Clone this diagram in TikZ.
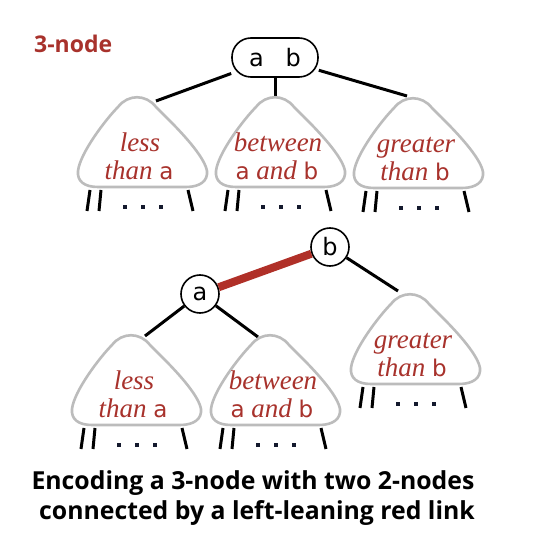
\documentclass[tikz,border=0pt]{standalone}
\usepackage{fontspec}
\setmainfont{Liberation Serif}
\newfontfamily\capfont{Open Sans}
\newfontfamily\keyfont{DejaVu Sans}
\definecolor{bookred}{RGB}{168,50,44}
\definecolor{trigray}{RGB}{188,188,188}
\definecolor{linkred}{RGB}{176,48,40}
\definecolor{dotc}{RGB}{20,25,45}
\tikzset{
  conn/.style={line width=3pt, black},
  redlink/.style={line width=8pt, linkred},
  tri/.style={draw=trigray, line width=2.6pt, fill=white, line join=round},
  leg/.style={line width=3pt, black},
  lbl/.style={inner sep=0pt, text=bookred, font=\fontsize{27}{29}\selectfont\itshape},
  keynode/.style={circle, draw, line width=1.6pt, fill=white, minimum size=38pt, inner sep=0pt, font=\keyfont\fontsize{24}{26}\selectfont},
  capsule/.style={draw, rounded corners=19pt, minimum width=86pt, minimum height=39pt, line width=1.6pt, fill=white, inner sep=0pt, font=\keyfont\fontsize{24}{26}\selectfont},
  capt/.style={inner sep=0pt, font=\capfont\bfseries\fontsize{24.8}{27}\selectfont},
  title/.style={inner sep=0pt, text=bookred, font=\capfont\bfseries\fontsize{23}{26}\selectfont},
}
\newcommand\sk[1]{{\upshape\keyfont\fontsize{23}{25}\selectfont #1}}
\newcommand\subtreeat[5]{%
  \begin{scope}[shift={(#1,#2)}]
    \filldraw[tri] (-44,0) -- (44,0) .. controls (58,0) and (66,6) .. (65,16)
      .. controls (62,34) and (26,68) .. (14,80)
      .. controls (4,93) and (-14,93) .. (-24,80)
      .. controls (-36,68) and (-62,34) .. (-64,16)
      .. controls (-65,6) and (-58,0) .. (-44,0) -- cycle;
    \draw[leg] (-52,-3) -- (-55,-24);
    \draw[leg] (-41,-3) -- (-43,-24);
    \draw[leg] (46,-3) -- (51,-24);
    \fill[dotc] (-18.75,-21.75) rectangle +(3.5,3.5);
    \fill[dotc] (-0.75,-21.75) rectangle +(3.5,3.5);
    \fill[dotc] (17.25,-21.75) rectangle +(3.5,3.5);
    \node[lbl, anchor=base] (#3-1) at (-2,35) {#4};
    \node[lbl, anchor=base] (#3-2) at (-3,7.5) {#5};
  \end{scope}}
\begin{document}
\begin{tikzpicture}[x=1pt, y=1pt]
\useasboundingbox (0,0) rectangle (542,558);
% top: 3-node
\node[title, anchor=base west] (ttl) at (34,505) {3-node};
\node[capsule] (ab) at (275,500.5) {a\hspace{22pt}b};
\coordinate (c1) at (156,457);
\coordinate (c2) at (275,458);
\coordinate (c3) at (407,462);
\draw[conn] (ab) -- (c1);
\draw[conn] (ab.south) -- (c2);
\draw[conn] (ab) -- (c3);
\subtreeat{142}{371}{ta}{less}{than \sk{a}}
\subtreeat{280}{371}{tb}{between}{\sk{a} and \sk{b}}
\subtreeat{418}{370}{tc}{greater}{than \sk{b}}
% bottom: two 2-nodes
\node[keynode] (b) at (330,311) {b};
\node[keynode] (a) at (200,264) {a};
\coordinate (d1) at (145,222);
\coordinate (d2) at (258,221);
\coordinate (d3) at (398,267);
\draw[conn] (a) -- (d1);
\draw[conn] (a) -- (d2);
\draw[conn] (b) -- (d3);
\draw[redlink] (a) -- (b);
\subtreeat{136}{133}{ba}{less}{than \sk{a}}
\subtreeat{275}{133}{bb}{between}{\sk{a} and \sk{b}}
\subtreeat{415}{174}{bc}{greater}{than \sk{b}}
% caption
\node[capt, anchor=base] (cap1) at (253,68) {Encoding a 3-node with two 2-nodes};
\node[capt, anchor=base] (cap2) at (257,38) {connected by a left-leaning red link};
\end{tikzpicture}
\end{document}
